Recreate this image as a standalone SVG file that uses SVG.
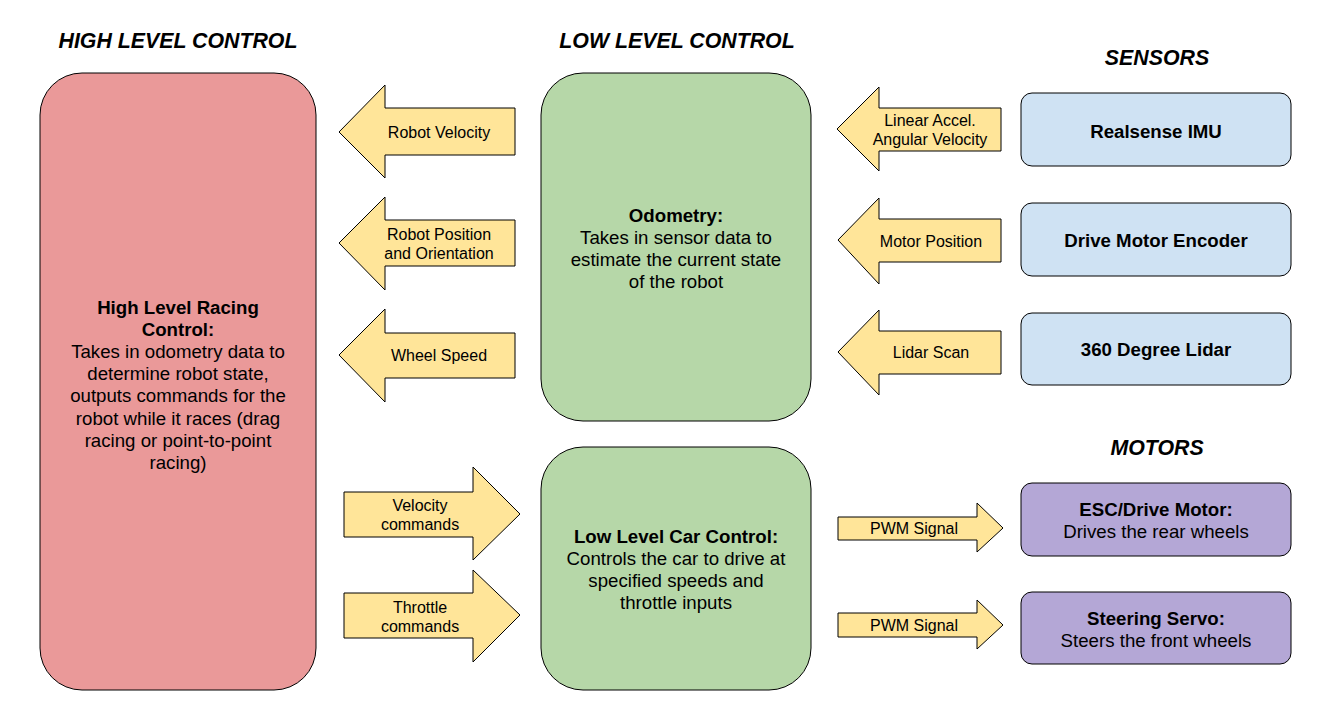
<svg xmlns="http://www.w3.org/2000/svg" width="1337" height="720" viewBox="0 0 1337 720">
<style>
text{font-family:"Liberation Sans",Arial,sans-serif;fill:#000;text-anchor:middle}
.title{font-size:21.33px;font-weight:bold;font-style:italic}
.nt{font-size:18.67px}
.b{font-weight:bold}
.al{font-size:16px}
.arrow{fill:#ffe599;stroke:#000;stroke-width:1}
.box{stroke:#000;stroke-width:1}
</style>
<rect width="1337" height="720" fill="#fff"/>
<g id="titles">
<text class="title" x="178" y="47.5">HIGH LEVEL CONTROL</text>
<text class="title" x="677" y="47.5">LOW LEVEL CONTROL</text>
<text class="title" x="1157" y="64.5">SENSORS</text>
<text class="title" x="1157" y="454.5">MOTORS</text>
</g>
<g id="high-level">
<rect class="box" x="40" y="73" width="276" height="617" rx="42" fill="#ea9999"/>
<text class="nt" x="178"><tspan class="b" x="178" y="313.5">High Level Racing</tspan><tspan class="b" x="178" y="335.7">Control:</tspan><tspan x="178" y="357.9">Takes in odometry data to</tspan><tspan x="178" y="380.1">determine robot state,</tspan><tspan x="178" y="402.3">outputs commands for the</tspan><tspan x="178" y="424.5">robot while it races (drag</tspan><tspan x="178" y="446.7">racing or point-to-point</tspan><tspan x="178" y="468.9">racing)</tspan></text>
</g>
<g id="odometry">
<rect class="box" x="541" y="73" width="270" height="348" rx="42" fill="#b6d7a8"/>
<text class="nt" x="676"><tspan class="b" x="676" y="221.5">Odometry:</tspan><tspan x="676" y="243.7">Takes in sensor data to</tspan><tspan x="676" y="265.9">estimate the current state</tspan><tspan x="676" y="288.1">of the robot</tspan></text>
</g>
<g id="low-level">
<rect class="box" x="541" y="447" width="270" height="243" rx="42" fill="#b6d7a8"/>
<text class="nt" x="676"><tspan class="b" x="676" y="542.5">Low Level Car Control:</tspan><tspan x="676" y="564.7">Controls the car to drive at</tspan><tspan x="676" y="586.9">specified speeds and</tspan><tspan x="676" y="609.1">throttle inputs</tspan></text>
</g>
<g id="realsense">
<rect class="box" x="1021" y="93" width="270" height="73" rx="11" fill="#cfe2f3"/>
<text class="nt b" x="1156" y="137.5">Realsense IMU</text>
</g>
<g id="encoder">
<rect class="box" x="1021" y="203" width="270" height="73" rx="11" fill="#cfe2f3"/>
<text class="nt b" x="1156" y="246.5">Drive Motor Encoder</text>
</g>
<g id="lidar">
<rect class="box" x="1021" y="313" width="270" height="72" rx="11" fill="#cfe2f3"/>
<text class="nt b" x="1156" y="355.5">360 Degree Lidar</text>
</g>
<g id="esc">
<rect class="box" x="1021" y="483" width="270" height="73" rx="11" fill="#b4a7d6"/>
<text class="nt" x="1156"><tspan class="b" x="1156" y="515.5">ESC/Drive Motor:</tspan><tspan x="1156" y="537.7">Drives the rear wheels</tspan></text>
</g>
<g id="servo">
<rect class="box" x="1021" y="592" width="270" height="72" rx="11" fill="#b4a7d6"/>
<text class="nt" x="1156"><tspan class="b" x="1156" y="624.5">Steering Servo:</tspan><tspan x="1156" y="646.7">Steers the front wheels</tspan></text>
</g>
<g id="connectors">
<path class="arrow" d="M339,132 L385,85 L385,108 L515,108 L515,155 L385,155 L385,178 Z"/>
<text class="al" x="439" y="137.5">Robot Velocity</text>
<path class="arrow" d="M339,243 L385,197 L385,220 L515,220 L515,266 L385,266 L385,290 Z"/>
<text class="al" x="439" y="239.5">Robot Position</text>
<text class="al" x="439" y="258.5">and Orientation</text>
<path class="arrow" d="M339,355 L385,309 L385,333 L515,333 L515,378 L385,378 L385,402 Z"/>
<text class="al" x="439" y="360.5">Wheel Speed</text>
<path class="arrow" d="M837,129 L879,87 L879,108 L1001,108 L1001,151 L879,151 L879,171 Z"/>
<text class="al" x="930" y="125.5">Linear Accel.</text>
<text class="al" x="930" y="144.5">Angular Velocity</text>
<path class="arrow" d="M838,240 L879,198 L879,219 L1001,219 L1001,262 L879,262 L879,284 Z"/>
<text class="al" x="931" y="246.5">Motor Position</text>
<path class="arrow" d="M838,352 L879,310 L879,331 L1001,331 L1001,374 L879,374 L879,395 Z"/>
<text class="al" x="931" y="357.5">Lidar Scan</text>
<path class="arrow" d="M520,514 L473,467 L473,492 L344,492 L344,537 L473,537 L473,560 Z"/>
<text class="al" x="420" y="510.5">Velocity</text>
<text class="al" x="420" y="529.5">commands</text>
<path class="arrow" d="M520,615 L473,570 L473,593 L344,593 L344,638 L473,638 L473,662 Z"/>
<text class="al" x="420" y="612.5">Throttle</text>
<text class="al" x="420" y="631.5">commands</text>
<path class="arrow" d="M1003,528 L977,503 L977,517 L838,517 L838,540 L977,540 L977,552 Z"/>
<text class="al" x="914" y="533.5">PWM Signal</text>
<path class="arrow" d="M1003,625 L977,600 L977,613 L838,613 L838,637 L977,637 L977,649 Z"/>
<text class="al" x="914" y="630.5">PWM Signal</text>
</g>
</svg>
